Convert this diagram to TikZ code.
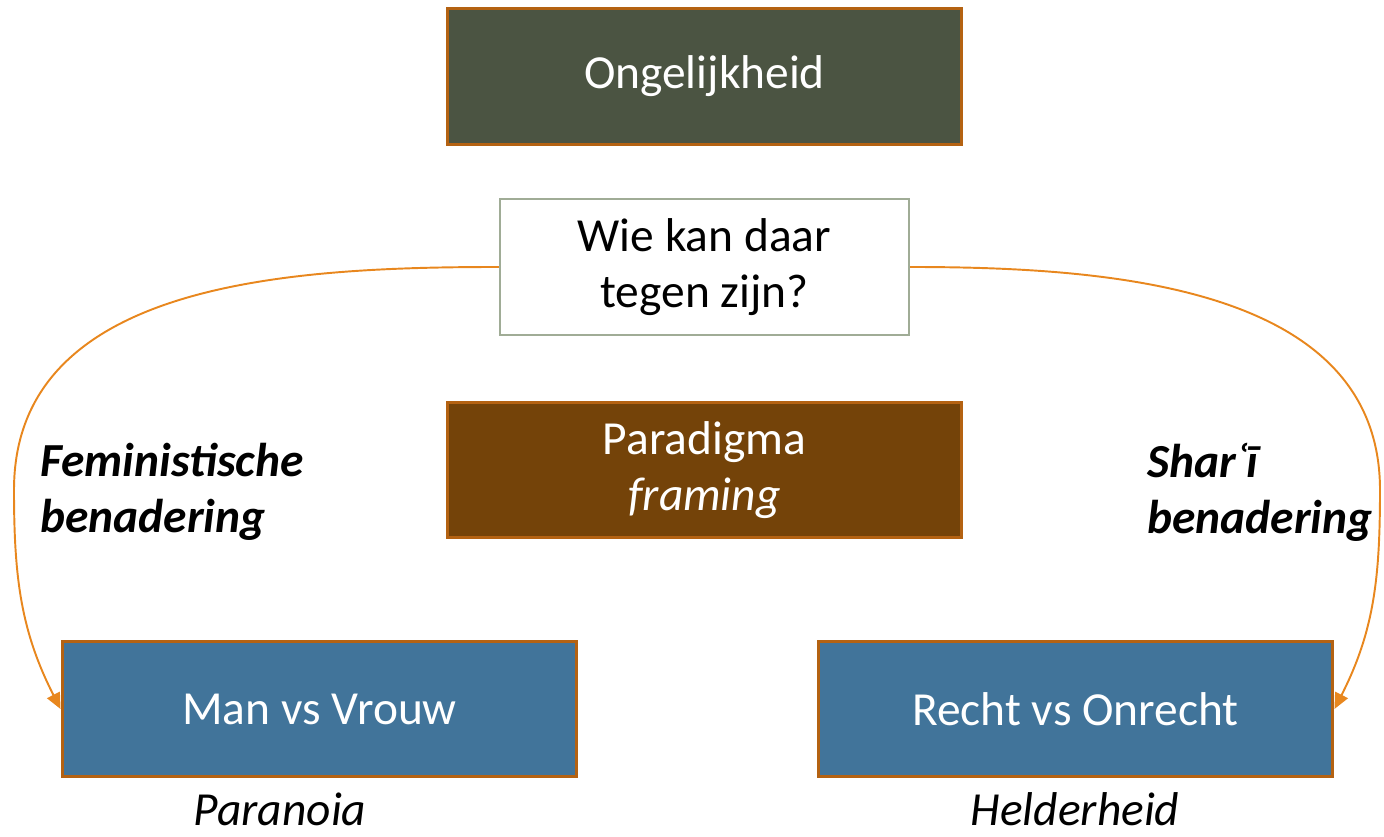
\documentclass[tikz,border=0pt]{standalone}
\usepackage{fontspec}
\setmainfont{Carlito}
\usepackage{xcolor}
\usepackage{tikz}
\usetikzlibrary{arrows.meta}

\definecolor{olive}{RGB}{75,84,66}
\definecolor{bruin}{RGB}{116,67,9}
\definecolor{staal}{RGB}{65,116,154}
\definecolor{rand}{RGB}{180,98,18}
\definecolor{pijl}{RGB}{232,135,30}
\definecolor{grijs}{RGB}{160,172,150}

\tikzset{
  box/.style={draw=rand,line width=1.7pt,minimum width=10.3cm,minimum height=2.72cm,text=white,align=center,font=\fontsize{27}{32}\selectfont},
  vraag/.style={draw=grijs,line width=1.2pt,fill=white,minimum width=8.18cm,minimum height=2.72cm,align=center,font=\fontsize{27}{32}\selectfont},
  label/.style={align=left,anchor=west,inner sep=0pt,font=\fontsize{27}{32}\selectfont\bfseries\itshape},
  onder/.style={font=\fontsize{27}{32}\selectfont\itshape,anchor=base},
  boog/.style={draw=pijl,line width=1.1pt,-{Triangle[length=9pt,width=8pt]}}
}

\begin{document}
\begin{tikzpicture}[x=0.02cm,y=-0.02cm]
\useasboundingbox (0,0) rectangle (1384,837);

\node[box,fill=olive] (ongelijk) at (704.5,76.5) {Ongelijkheid};
\node[vraag] (wie) at (704.5,267) {Wie kan daar\\tegen zijn?};
\node[box,fill=bruin] (paradigma) at (704.5,470) {Paradigma\\\textit{framing}};
\node[box,fill=staal] (man) at (319.5,709) {Man vs Vrouw};
\node[box,fill=staal] (recht) at (1075.5,709) {Recht vs Onrecht};

\node[label] (fem) at (40,492) {Feministische\\benadering};
\node[label] (shar) at (1147,492) {Sharʿī\\benadering};

\node[onder] (paranoia) at (280,826) {Paranoia};
\node[onder] (helder) at (1075,826) {Helderheid};

% bogen naar de onderste vakken
\coordinate (links) at (14,490);
\coordinate (rechts) at (1380,490);
\draw[boog] (wie.west) to[out=180,in=90] (links) to[out=-90,in=117] (man.west);
\draw[boog] (wie.east) to[out=0,in=90] (rechts) to[out=-90,in=63] (recht.east);
\end{tikzpicture}
\end{document}
